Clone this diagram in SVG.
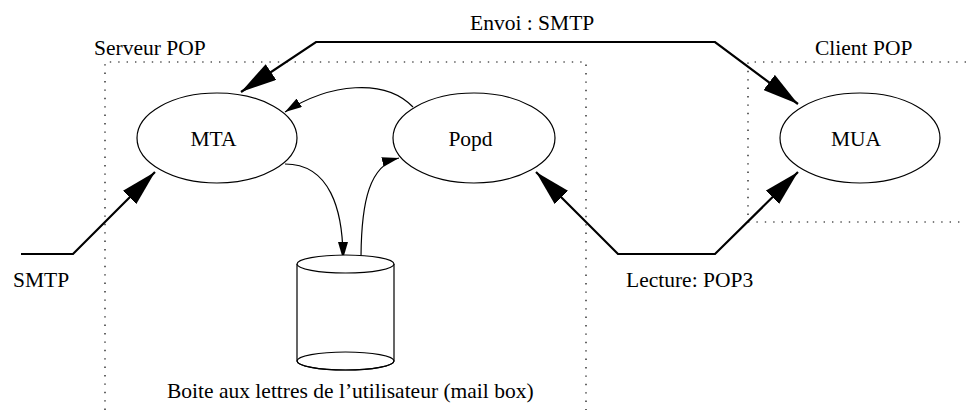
<svg xmlns="http://www.w3.org/2000/svg" width="966" height="412" viewBox="0 0 966 412" font-family="'Liberation Serif', 'Times New Roman', Times, serif" font-size="21.5">
<style>
text { fill: #000; }
.box { fill: none; stroke: #000; stroke-width: 1.2; stroke-dasharray: 1.4 7; }
.node { fill: #fff; stroke: #000; stroke-width: 1.2; }
.thick { fill: none; stroke: #000; stroke-width: 2.2; stroke-linejoin: miter; }
.thin { fill: none; stroke: #000; stroke-width: 1.2; }
</style>
<defs>
<marker id="big" markerUnits="userSpaceOnUse" markerWidth="36" markerHeight="19" refX="36" refY="9.5" orient="auto" viewBox="0 0 36 19">
<path d="M0,0 L36,9.5 L0,19 z" fill="#000"/>
</marker>
<marker id="bigs" markerUnits="userSpaceOnUse" markerWidth="36" markerHeight="19" refX="36" refY="9.5" orient="auto-start-reverse" viewBox="0 0 36 19">
<path d="M0,0 L36,9.5 L0,19 z" fill="#000"/>
</marker>
<marker id="small" markerUnits="userSpaceOnUse" markerWidth="17" markerHeight="10" refX="17" refY="5" orient="auto" viewBox="0 0 17 10">
<path d="M0,0 L17,5 L0,10 z" fill="#000"/>
</marker>
</defs>
<g id="groups">
<path class="box" d="M105,410 L105,62 L586,62 L586,410"/>
<path class="box" d="M966,62 L748,62 L748,222 L966,222"/>
<text x="94" y="55">Serveur POP</text>
<text x="815" y="55">Client POP</text>
</g>
<g id="connectors">
<path class="thick" d="M241,92 L316,42 L715,42 L798,104" marker-start="url(#bigs)" marker-end="url(#big)"/>
<path class="thick" d="M21,254 L73,254 L155,172" marker-end="url(#big)"/>
<path class="thick" d="M536,172 L618,254 L715,254 L798,172" marker-start="url(#bigs)" marker-end="url(#big)"/>
<path class="thin" d="M413,107 C385,78 330,83 285,112" marker-end="url(#small)"/>
<path class="thin" d="M285,164 C330,164 343,210 343,259" marker-end="url(#small)"/>
<path class="thin" d="M361,260 C361,200 370,165 399,158" marker-end="url(#small)"/>
<text x="470" y="30">Envoi : SMTP</text>
<text x="13" y="287">SMTP</text>
<text x="626" y="287">Lecture: POP3</text>
</g>
<g id="MTA">
<ellipse class="node" cx="217" cy="138" rx="80" ry="45"/>
<text x="213.5" y="145.5" text-anchor="middle">MTA</text>
</g>
<g id="Popd">
<ellipse class="node" cx="474" cy="138" rx="81" ry="45"/>
<text x="470.5" y="145.5" text-anchor="middle">Popd</text>
</g>
<g id="MUA">
<ellipse class="node" cx="860" cy="138" rx="80" ry="45"/>
<text x="856" y="145.5" text-anchor="middle">MUA</text>
</g>
<g id="mailbox">
<path class="node" d="M297,264 L297,361 A48.5,9 0 0 0 394,361 L394,264"/>
<ellipse class="node" cx="345.5" cy="361" rx="48.5" ry="9" style="fill:none"/>
<ellipse class="node" cx="345.5" cy="264" rx="48.5" ry="9"/>
<text x="167" y="398">Boite aux lettres de l’utilisateur (mail box)</text>
</g>
</svg>
